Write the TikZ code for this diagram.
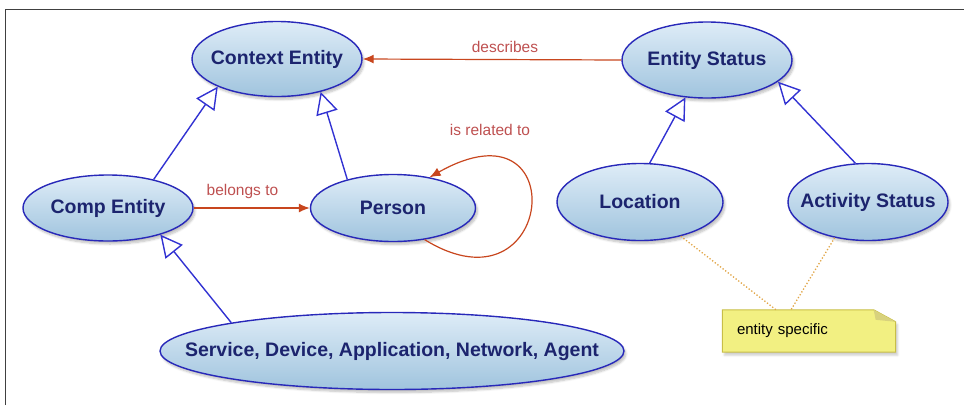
\documentclass[tikz,border=0pt]{standalone}
\usepackage{fontspec}
\setmainfont{Liberation Sans}
\usetikzlibrary{arrows.meta,shapes.geometric,shadows.blur,backgrounds}

\definecolor{conceptline}{RGB}{40,40,185}
\definecolor{concepttext}{RGB}{28,36,110}
\definecolor{conceptlight}{RGB}{222,236,247}
\definecolor{conceptdark}{RGB}{160,196,222}
\definecolor{isaline}{RGB}{50,50,210}
\definecolor{relline}{RGB}{200,70,30}
\definecolor{reltext}{RGB}{190,80,80}
\definecolor{notefill}{RGB}{242,240,130}
\definecolor{noteline}{RGB}{200,190,70}
\definecolor{notelink}{RGB}{225,165,70}

\begin{document}
\begin{tikzpicture}[x=1pt,y=-1pt,
  concept/.style={ellipse,draw=conceptline,line width=1.4pt,inner xsep=-45pt,inner ysep=0pt,
    top color=conceptlight,bottom color=conceptdark,text=concepttext,
    font=\fontsize{19.5}{22}\selectfont\bfseries,
    blur shadow={shadow xshift=2pt,shadow yshift=-3pt,shadow blur steps=6,shadow opacity=25}},
  isa/.style={draw=isaline,line width=1.4pt,-{Triangle[open,length=22pt,width=22pt]}},
  rel/.style={draw=relline,line width=1.2pt,-{Latex[length=11pt,width=9pt]}},
  rellabel/.style={text=reltext,font=\fontsize{15.5}{18}\selectfont},
  notebox/.style={minimum width=167pt,minimum height=42pt,text width=150pt,align=left,
    font=\fontsize{15}{18}\selectfont,inner sep=0pt},
  notelink/.style={draw=notelink,line width=1.3pt,dotted}]
\useasboundingbox (0,0) rectangle (964,405);
% frame
\draw[black!75,line width=1pt] (5,405) -- (5,9) -- (964,9);

% concepts
\node[concept,minimum width=170pt,minimum height=75pt] (ctx) at (277,59) {Context Entity};
\node[concept,minimum width=170pt,minimum height=76pt] (est) at (707,60) {Entity Status};
\node[concept,minimum width=170pt,minimum height=66pt] (comp) at (108,208) {Comp Entity};
\node[concept,minimum width=165pt,minimum height=67pt] (person) at (393,208) {Person};
\node[concept,minimum width=166pt,minimum height=77pt] (loc) at (640,202) {Location};
\node[concept,minimum width=160pt,minimum height=77pt] (act) at (868,202) {Activity Status};
\node[concept,minimum width=464pt,minimum height=77pt] (svc) at (392,351) {Service, Device, Application, Network, Agent};

% note
\node[notebox] (note) at (812,331) {entity specific};
\begin{scope}[on background layer]
  \filldraw[fill=notefill,draw=noteline,line width=1pt,
    blur shadow={shadow xshift=2pt,shadow yshift=-3pt,shadow opacity=20}]
    ([xshift=-6pt]note.south west) -- ([xshift=-6pt]note.north west)
    -- ([xshift=-22pt]note.north east) -- ([yshift=-12pt]note.north east)
    -- (note.south east) -- cycle;
  \fill[noteline!70] ([xshift=-22pt]note.north east) -- ([yshift=-12pt]note.north east)
    -- ([xshift=-20pt,yshift=-10pt]note.north east) -- cycle;
\end{scope}

% subclass links
\draw[isa] (comp.32) -- (ctx.205);
\draw[isa] (person.148) -- (ctx.-37);
\draw[isa] (svc.170) -- (comp.-27);
\draw[isa] (loc.76) -- (est.-120);
\draw[isa] (act.108) -- (est.-17);

% relations
\draw[rel] (comp.east) -- node[rellabel,above=5pt,pos=0.42] {belongs to} (person.west);
\draw[rel] (est.west) -- node[rellabel,above=3pt,pos=0.45] {describes} (ctx.east);
\draw[rel] (person.-45) .. controls (555,320) and (575,95) .. (person.40);
\node[rellabel] (relto) at (490,130) {is related to};

% note links
\draw[notelink] (loc.-40) -- ([xshift=-36pt]note.north);
\draw[notelink] (act.-133) -- ([xshift=-21pt]note.north);
\end{tikzpicture}
\end{document}
